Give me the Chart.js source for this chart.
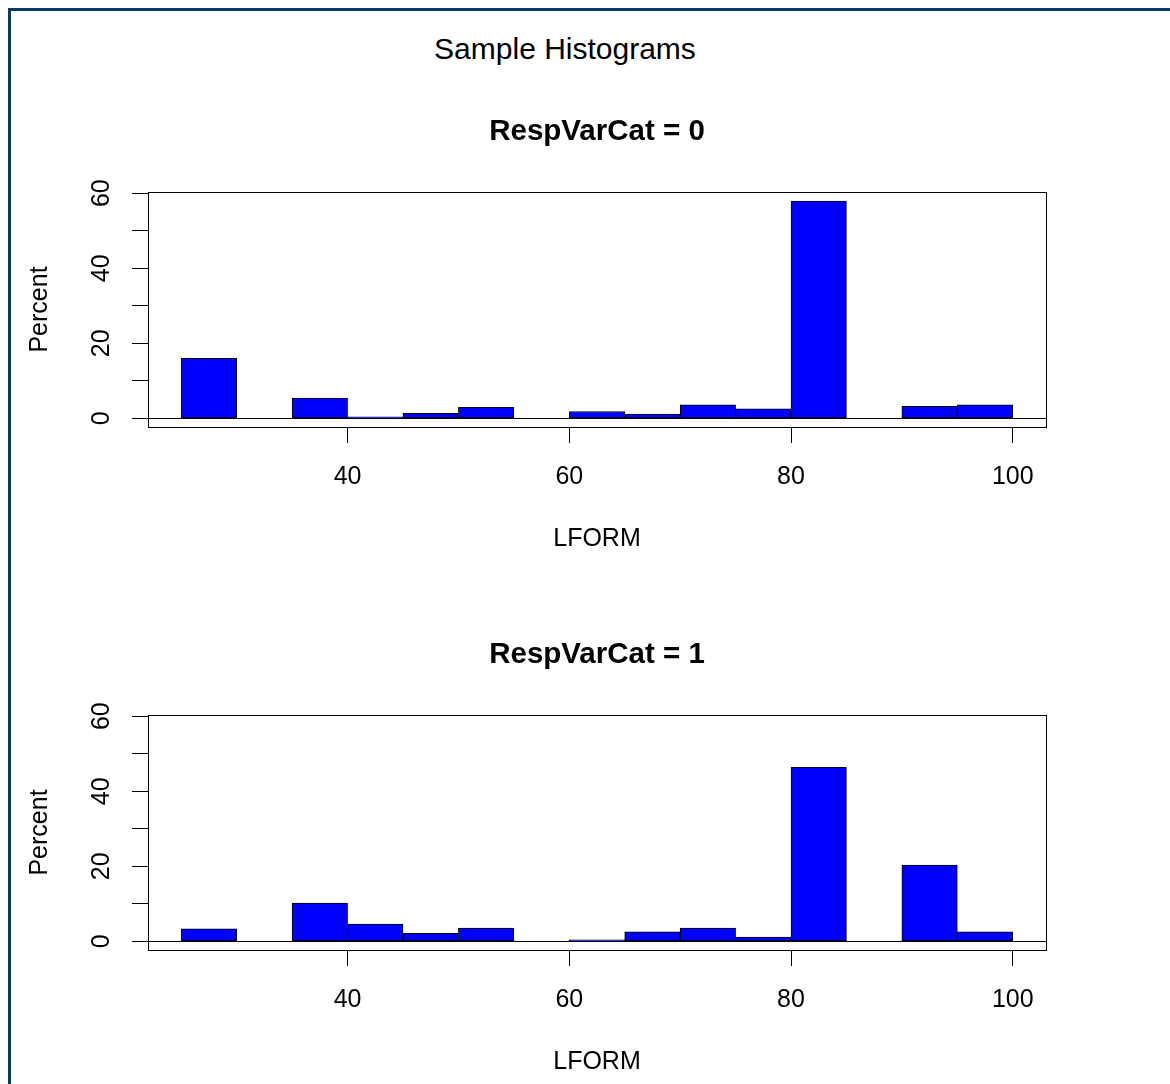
<!DOCTYPE html>
<html>
<head>
<meta charset="utf-8">
<title>Sample Histograms</title>
<script src="https://cdn.jsdelivr.net/npm/chart.js@4.4.1/dist/chart.umd.min.js"></script>
<style>
  html, body { margin: 0; padding: 0; background: #fff; }
  #page { position: relative; width: 1170px; height: 1084px; overflow: hidden; font-family: "Liberation Sans", Arial, sans-serif; }
  #frame { position: absolute; left: 8px; top: 8px; right: -10px; bottom: -10px; border-top: 3px solid #0b3a66; border-left: 3px solid #0b3a66; }
  #main-title { position: absolute; left: 0; top: 34px; width: 1130px; text-align: center; font-size: 30px; line-height: 1; color: #000; }
  canvas { position: absolute; left: 0; }
  #hist-0 { top: 0; }
  #hist-1 { top: 523px; }
</style>
</head>
<body>
<div id="page">
  <div id="frame"></div>
  <div id="main-title">Sample Histograms</div>
  <canvas id="hist-0" width="1170" height="561"></canvas>
  <canvas id="hist-1" width="1170" height="561"></canvas>
</div>
<script>
// LFORM bins are 5 wide, from 25 to 100; values are centred in each bin
const binMids = [27.5, 32.5, 37.5, 42.5, 47.5, 52.5, 57.5, 62.5, 67.5, 72.5, 77.5, 82.5, 87.5, 92.5, 97.5];

// percent of cases in each bin
const pctRespVar0 = [16.0, 0, 5.4, 0.4, 1.3, 2.9, 0, 1.8, 1.1, 3.6, 2.5, 57.9, 0, 3.2, 3.6];
const pctRespVar1 = [3.3, 0, 10.2, 4.6, 2.1, 3.5, 0, 0.4, 2.5, 3.5, 1.1, 46.4, 0, 20.3, 2.5];

const panelTitles = ['RespVarCat = 0', 'RespVarCat = 1'];

// axis limits (R pads the data range by 4%)
const X_MIN = 22;
const X_MAX = 103;
const Y_MIN = -2.32;
const Y_MAX = 60.32;

const FONT = '"Liberation Sans", Arial, sans-serif';
Chart.defaults.font.family = FONT;
Chart.defaults.color = '#000';

// box round the plot region + y tick labels turned sideways, like base R
const rStylePlugin = {
  id: 'rStyle',
  afterDraw(chart) {
    const { ctx, chartArea: a } = chart;
    const yScale = chart.scales.y;
    ctx.save();
    ctx.strokeStyle = '#000';
    ctx.lineWidth = 1;
    ctx.strokeRect(Math.round(a.left) + 0.5, Math.round(a.top) + 0.5,
      Math.round(a.right - a.left), Math.round(a.bottom - a.top));

    ctx.font = `25px ${FONT}`;
    ctx.fillStyle = '#000';
    ctx.textAlign = 'center';
    ctx.textBaseline = 'middle';
    yScale.ticks.forEach((t) => {
      if (!t.label) return;
      const y = yScale.getPixelForValue(t.value);
      ctx.save();
      ctx.translate(102, y);
      ctx.rotate(-Math.PI / 2);
      ctx.fillText(t.label, 0, 0);
      ctx.restore();
    });
    ctx.restore();
  }
};

const axisFont = { size: 25, lineHeight: 1 };

const buildHistogram = (canvasId, title, values) => new Chart(document.getElementById(canvasId), {
  type: 'bar',
  data: {
    datasets: [{
      data: binMids.map((x, i) => ({ x, y: values[i] })),
      backgroundColor: '#0000ff',
      borderColor: '#000',
      borderWidth: 1,
      borderSkipped: false,
      barPercentage: 1,
      categoryPercentage: 1
    }]
  },
  options: {
    responsive: false,
    animation: false,
    events: [],
    layout: { padding: { left: 0, right: 124, top: 0, bottom: 0 } },
    plugins: {
      legend: { display: false },
      tooltip: { enabled: false },
      title: {
        display: true,
        fullSize: false,
        text: title,
        color: '#000',
        font: { size: 29.5, weight: 'bold', lineHeight: 1 },
        padding: { top: 117, bottom: 45.5 }
      }
    },
    scales: {
      x: {
        type: 'linear',
        min: X_MIN,
        max: X_MAX,
        offset: false,
        border: { display: false },
        grid: { drawOnChartArea: false, offset: false, tickLength: 16, tickColor: '#000' },
        ticks: { stepSize: 20, includeBounds: false, padding: 22, color: '#000', font: axisFont, maxRotation: 0, autoSkip: false },
        title: { display: true, text: 'LFORM', color: '#000', font: axisFont, padding: { top: 0, bottom: 9.5 } },
        afterFit: (s) => { s.height = 134; }
      },
      y: {
        min: Y_MIN,
        max: Y_MAX,
        border: { display: false },
        grid: {
          // only the zero line crosses the plot
          color: (c) => (c.tick && c.tick.value === 0 ? '#000' : 'rgba(0,0,0,0)'),
          tickLength: 16,
          tickColor: '#000'
        },
        ticks: {
          display: false,
          stepSize: 10,
          includeBounds: false,
          callback: (v) => (v % 20 === 0 ? String(v) : '')
        },
        title: { display: true, text: 'Percent', color: '#000', font: axisFont, padding: { top: 27.5, bottom: 0 } },
        afterFit: (s) => { s.width = 148; }
      }
    }
  },
  plugins: [rStylePlugin]
});

buildHistogram('hist-0', panelTitles[0], pctRespVar0);
buildHistogram('hist-1', panelTitles[1], pctRespVar1);
</script>
</body>
</html>
